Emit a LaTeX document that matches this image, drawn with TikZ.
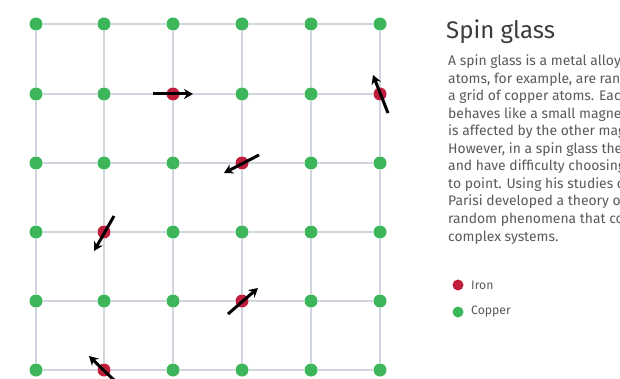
\documentclass[tikz,border=0pt]{standalone}
\usepackage{fontspec}
\setmainfont{Fira Sans}
\usetikzlibrary{arrows.meta}
\definecolor{cu}{HTML}{3DB55A}
\definecolor{fe}{HTML}{C01E3C}
\definecolor{gridc}{HTML}{D0D6DD}
\definecolor{txt}{HTML}{5A5A5A}
\definecolor{ttl}{HTML}{3C3C3C}
\begin{document}
\begin{tikzpicture}[x=1pt,y=-1pt,
  atom/.style={circle,inner sep=0pt,minimum size=13pt,fill=cu},
  site 3-2/.style={fill=fe},
  site 6-2/.style={fill=fe},
  site 4-3/.style={fill=fe},
  site 2-4/.style={fill=fe},
  site 4-5/.style={fill=fe},
  site 2-6/.style={fill=fe},
  bond/.style={draw=gridc,line width=1.8pt},
  spin/.style={draw=black,line width=3pt,-{Stealth[length=9pt,width=10pt]}},
  body/.style={anchor=base west,inner sep=0pt,text=txt,font=\fontsize{13.9}{17}\selectfont},
  legend/.style={anchor=west,inner sep=0pt,text=txt,font=\fontsize{12.2}{14}\selectfont}]
\useasboundingbox[fill=white] (0,0) rectangle (620,379);
\begin{scope}
\clip (0,0) rectangle (620,379);
% atoms
\foreach \x [count=\i] in {36,104,173,242,311,380}
  \foreach \y [count=\j] in {24,94,163,232,301,370}
    \node[atom,site \i-\j/.try] (a-\i-\j) at (\x,\y) {};
% bonds
\foreach \i [evaluate=\i as \n using int(\i+1)] in {1,...,5}
  \foreach \j in {1,...,6} {
    \draw[bond] (a-\i-\j) -- (a-\n-\j);
    \draw[bond] (a-\j-\i) -- (a-\j-\n);
  }
% spins
\draw[spin] ([shift={(-20,0)}]a-3-2.center) -- ([shift={(20,0)}]a-3-2.center);
\draw[spin] ([shift={(8,19)}]a-6-2.center) -- ([shift={(-7,-19)}]a-6-2.center);
\draw[spin] ([shift={(17,-8)}]a-4-3.center) -- ([shift={(-18,10)}]a-4-3.center);
\draw[spin] ([shift={(10,-16)}]a-2-4.center) -- ([shift={(-10,19)}]a-2-4.center);
\draw[spin] ([shift={(-14,13)}]a-4-5.center) -- ([shift={(16,-13)}]a-4-5.center);
\draw[spin] ([shift={(12,12)}]a-2-6.center) -- ([shift={(-15,-14)}]a-2-6.center);
% text
\node[anchor=base west,inner sep=0pt,text=ttl,font=\fontsize{24}{28}\selectfont] (title) at (446,39) {Spin glass};
\foreach \t [count=\k] in {
  {A spin glass is a metal alloy where iron},
  {atoms, for example, are randomly mixed into},
  {a grid of copper atoms. Each iron atom},
  {behaves like a small magnet, or spin, which},
  {is affected by the other magnets around it.},
  {However, in a spin glass they are frustrated},
  {and have difficulty choosing which direction},
  {to point. Using his studies of spin glass,},
  {Parisi developed a theory of hidden patterns in},
  {random phenomena that could be applied to},
  {complex systems.}}
  \node[body] (line\k) at (448,{66+17.5*(\k-1)}) {\t};
% legend
\node[atom,minimum size=11pt,fill=fe] (kfe) at (458,285) {};
\node[legend] (lfe) at (471,285) {Iron};
\node[atom,minimum size=11pt] (kcu) at (458,312) {};
\node[legend] (lcu) at (471,312) {Copper};
\end{scope}
\end{tikzpicture}
\end{document}
